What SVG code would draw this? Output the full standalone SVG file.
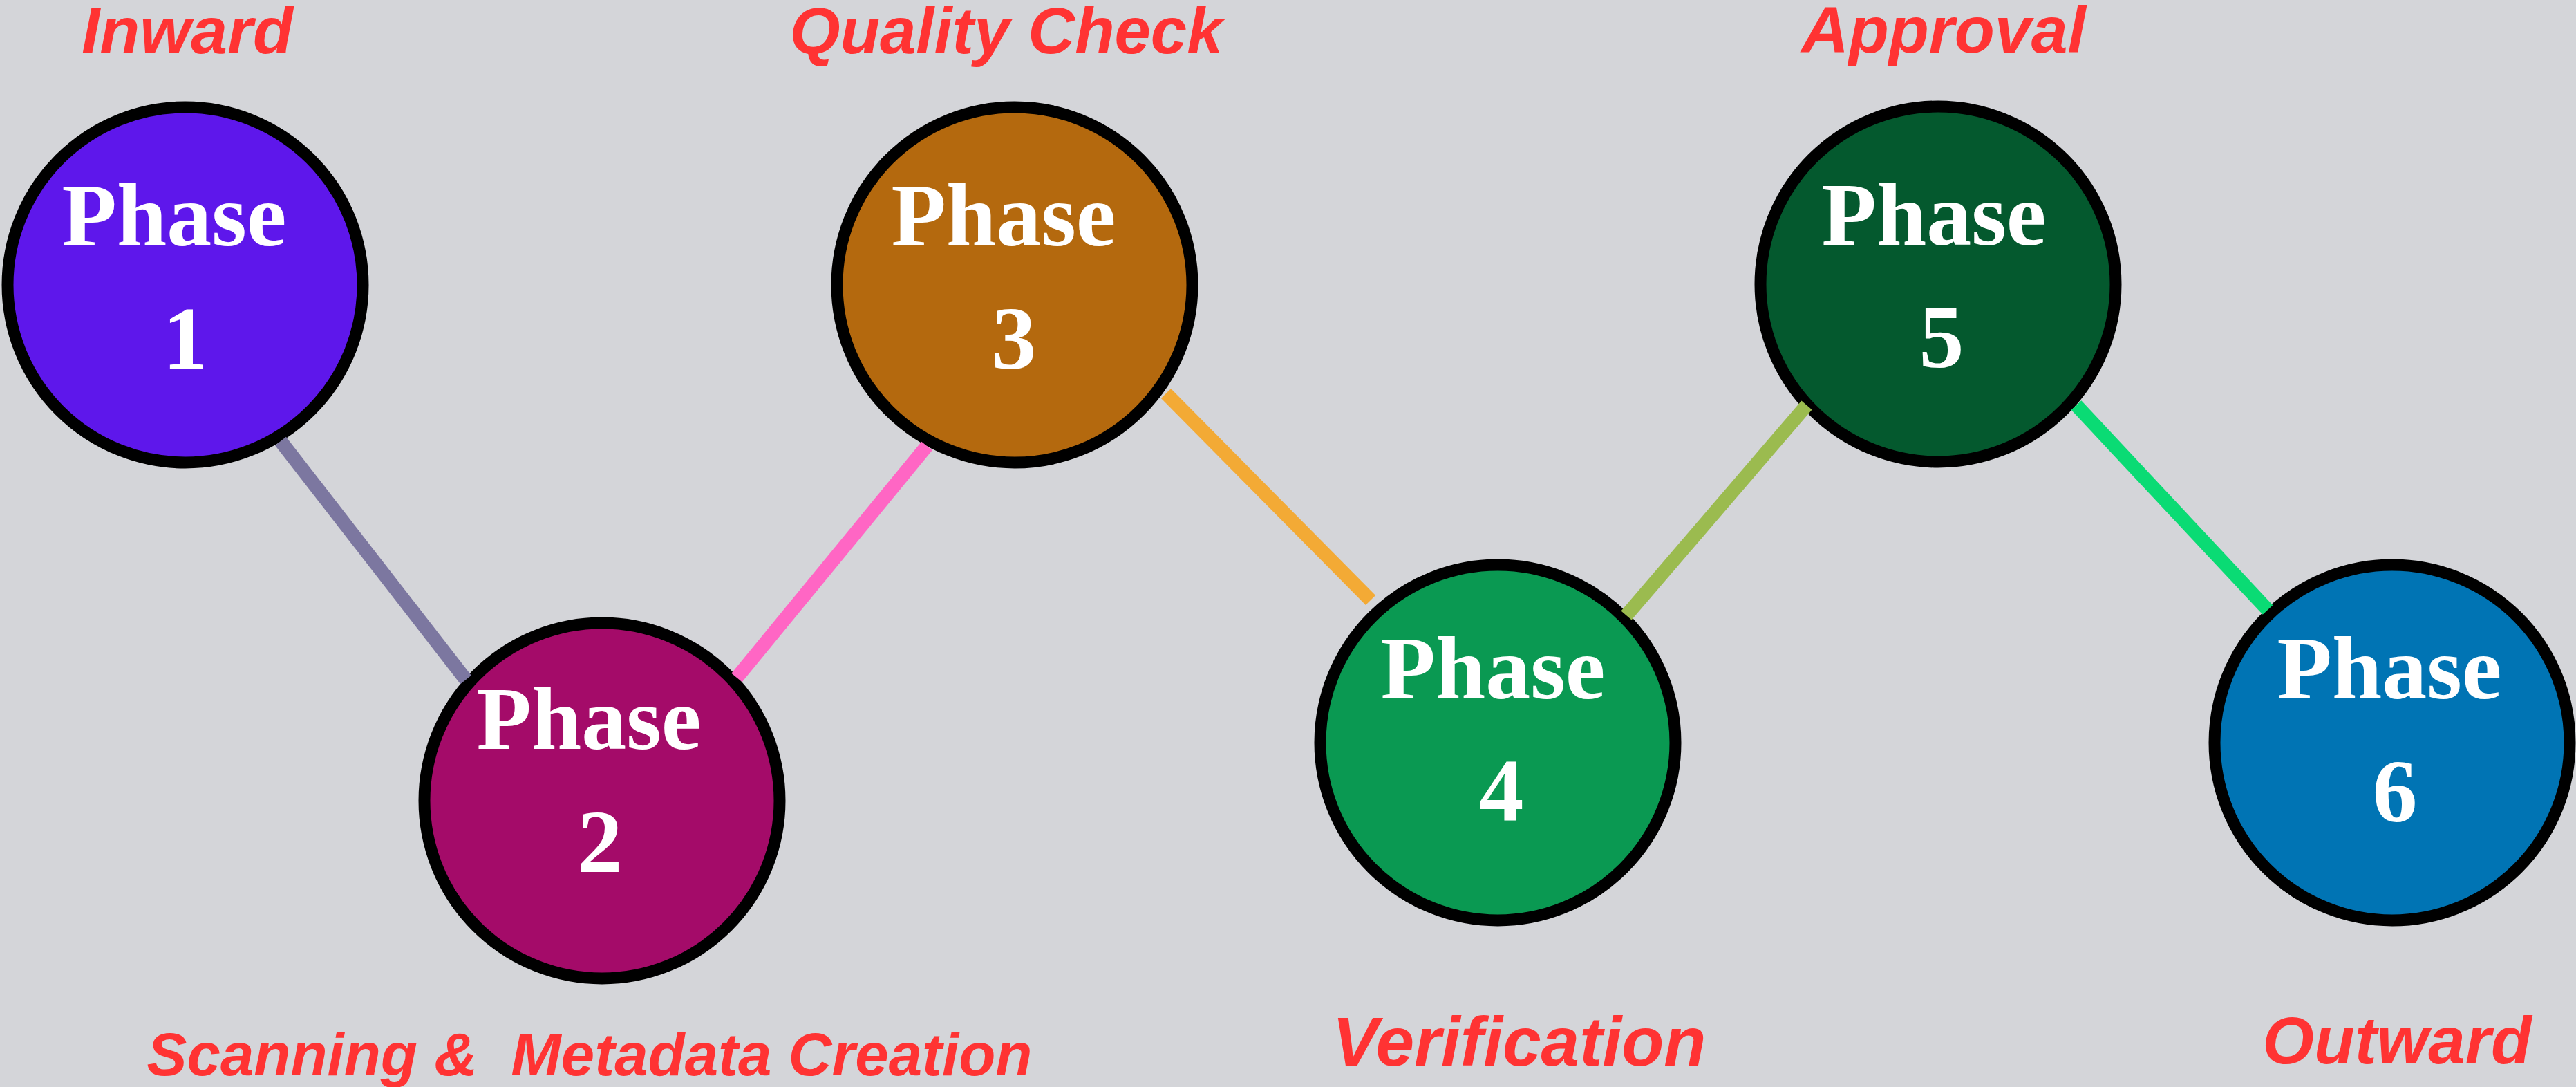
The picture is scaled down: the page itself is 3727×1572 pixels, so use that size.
<svg xmlns="http://www.w3.org/2000/svg" width="3727" height="1572" viewBox="0 0 3727 1572">
<style>
.node{stroke:#000;stroke-width:17}
.ph{font-family:"Liberation Serif","Times New Roman",serif;font-weight:bold;font-size:130px;fill:#fff;text-anchor:middle}
.lbl{font-family:"Liberation Sans",Arial,sans-serif;font-weight:bold;font-style:italic;fill:#ff3333;text-anchor:middle}
.conn{stroke-width:20;fill:none;stroke-linecap:butt}
</style>
<rect x="0" y="0" width="3727" height="1572" fill="#d4d5d9"/>
<g id="labels">
<text class="lbl" x="271" y="77" font-size="95">Inward</text>
<text class="lbl" x="1456" y="77" font-size="94">Quality Check</text>
<text class="lbl" x="2812" y="76" font-size="95">Approval</text>
<text class="lbl" x="853" y="1555" font-size="87" xml:space="preserve">Scanning &amp;  Metadata Creation</text>
<text class="lbl" x="2198" y="1541" font-size="100">Verification</text>
<text class="lbl" x="3468" y="1538" font-size="96">Outward</text>
</g>
<g id="node1">
<circle class="node" cx="268" cy="412" r="257" fill="#5e17eb"/>
<text class="ph" x="252" y="355">Phase</text>
<text class="ph" x="268" y="533">1</text>
</g>
<g id="node2">
<circle class="node" cx="871" cy="1158" r="257" fill="#a40b69"/>
<text class="ph" x="852" y="1083">Phase</text>
<text class="ph" x="868" y="1261">2</text>
</g>
<g id="node3">
<circle class="node" cx="1468" cy="412" r="257" fill="#b4690e"/>
<text class="ph" x="1452" y="355">Phase</text>
<text class="ph" x="1467" y="533">3</text>
</g>
<g id="node4">
<circle class="node" cx="2167" cy="1074" r="257" fill="#0a9952"/>
<text class="ph" x="2160" y="1010">Phase</text>
<text class="ph" x="2172" y="1187">4</text>
</g>
<g id="node5">
<circle class="node" cx="2804" cy="411" r="257" fill="#04592e"/>
<text class="ph" x="2798" y="354">Phase</text>
<text class="ph" x="2809" y="531">5</text>
</g>
<g id="node6">
<circle class="node" cx="3461" cy="1074" r="257" fill="#0074b4"/>
<text class="ph" x="3457" y="1010">Phase</text>
<text class="ph" x="3465" y="1188">6</text>
</g>
<g id="connectors">
<line class="conn" x1="406" y1="638" x2="674" y2="983" stroke="#7c77a0"/>
<line class="conn" x1="1066" y1="980" x2="1341" y2="645" stroke="#ff66c4"/>
<line class="conn" x1="1687" y1="569" x2="1983" y2="868" stroke="#f3aa35"/>
<line class="conn" x1="2353" y1="890" x2="2614" y2="586" stroke="#9bbb4f"/>
<line class="conn" x1="3004" y1="586" x2="3281" y2="882" stroke="#0adb74"/>
</g>
</svg>
